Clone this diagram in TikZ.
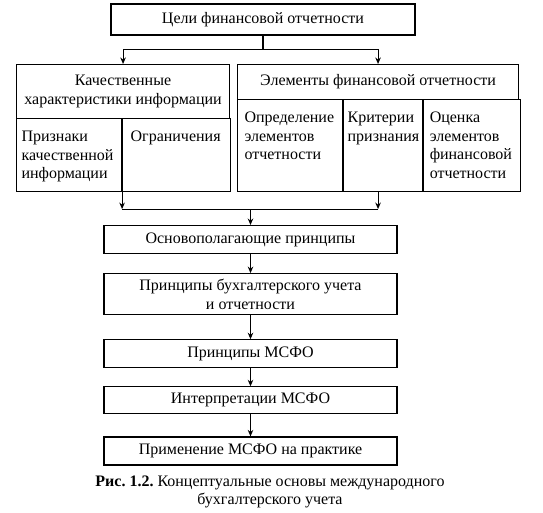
\documentclass[tikz,border=0pt]{standalone}
\usepackage{fontspec}
\setmainfont{Liberation Serif}
\usetikzlibrary{arrows.meta,positioning}
\frenchspacing

\begin{document}
\begin{tikzpicture}[x=1pt, y=-1pt,
    every node/.style={font=\fontsize{16}{18.5}\selectfont},
    box/.style={draw, line width=1.1pt, align=center, inner sep=0pt},
    chainbox/.style={box, minimum width=293pt},
    cell/.style={draw, line width=1.1pt, anchor=north west, align=left,
                 inner xsep=5pt, inner ysep=0pt, text height=23pt},
    link/.style={line width=1.1pt, -{Stealth[length=6.5pt,width=5.5pt]}},
    bus/.style={line width=1.1pt}]
  \useasboundingbox (0,0) rectangle (543,513);
  % goals
  \node[box, minimum width=304pt, minimum height=31pt] (goals) at (263,19.5)
    {Цели финансовой отчетности};
  % left block
  \node[box, anchor=north west, minimum width=213pt, minimum height=54pt] (qual) at (16,64)
    {Качественные\\характеристики информации};
  \node[cell, text width=95pt, text depth=50pt] (signs) at (16,118)
    {Признаки\\качественной\\информации};
  \node[cell, inner xsep=8pt, text width=92pt, text depth=50pt] (limits) at (signs.north east)
    {Ограничения};
  % right block
  \node[box, anchor=north west, minimum width=281pt, minimum height=35pt] (elems) at (237,64)
    {Элементы финансовой отчетности};
  \node[cell, inner xsep=7pt, text width=91pt, text depth=69pt] (defn) at (237,99)
    {Определение\\элементов\\отчетности};
  \node[cell, inner xsep=4pt, text width=71pt, text depth=69pt] (crit) at (defn.north east)
    {Критерии\\признания};
  \node[cell, inner xsep=6pt, text width=85pt, text depth=69pt] (meas) at (crit.north east)
    {Оценка\\элементов\\финансовой\\отчетности};
  % chain
  \node[chainbox, minimum height=28pt, anchor=north] (basic) at (250.5,225)
    {Основополагающие принципы};
  \node[chainbox, minimum height=41pt, below=19pt of basic] (acct)
    {Принципы бухгалтерского учета\\и отчетности};
  \node[chainbox, minimum height=28pt, below=24pt of acct] (ifrs) {Принципы МСФО};
  \node[chainbox, minimum height=27pt, below=18pt of ifrs] (interp) {Интерпретации МСФО};
  \node[chainbox, minimum height=28pt, below=22pt of interp] (apply)
    {Применение МСФО на практике};
  % caption
  \node[align=center] (caption) at (270,492)
    {{\bfseries Рис. 1.2.} Концептуальные основы международного\\бухгалтерского учета};
  % connectors
  \draw[link] (goals.south) -- ++(0,14) -| (qual.north);
  \draw[link] (goals.south) -- ++(0,14) -| (elems.north);
  \coordinate (busL) at ([yshift=-17pt]signs.south east);
  \coordinate (busR) at (elems.north |- busL);
  \draw[link] (signs.south east) -- (busL);
  \draw[link] (elems.north |- crit.south) -- (busR);
  \draw[bus] (busL) -- (busR);
  \draw[link] (basic.north |- busL) -- (basic.north);
  \draw[link] (basic) -- (acct);
  \draw[link] (acct) -- (ifrs);
  \draw[link] (ifrs) -- (interp);
  \draw[link] (interp) -- (apply);
\end{tikzpicture}
\end{document}
